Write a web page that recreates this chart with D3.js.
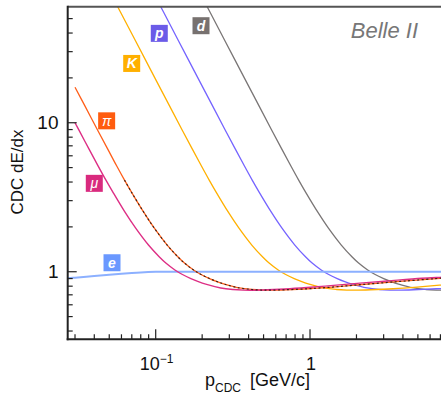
<!DOCTYPE html>
<html>
<head>
<meta charset="utf-8">
<script src="https://cdn.jsdelivr.net/npm/d3@7"></script>
<style>
  body { margin: 0; background: #fff; }
  svg { display: block; font-family: "Liberation Sans", Arial, sans-serif; }
</style>
</head>
<body>
<svg id="chart" width="441" height="396"></svg>
<script>
// momentum [GeV/c] and CDC dE/dx, one list per particle
const elecP = [0.027, 0.03, 0.04, 0.05, 0.06, 0.07, 0.08, 0.1, 0.12, 0.2, 0.5, 1, 3, 7.1];
const elecV = [0.905, 0.912, 0.935, 0.955, 0.97, 0.982, 0.99, 0.998, 1.0, 1.0, 1.0, 1.0, 1.0, 1.0];

const muonP = [0.03, 0.0317, 0.037, 0.0423, 0.0476, 0.0529, 0.0634, 0.074, 0.0898, 0.1057, 0.1163, 0.1332, 0.148, 0.169, 0.189, 0.211, 0.264, 0.317, 0.37, 0.423, 0.529, 0.74, 1.057, 1.48, 2.11, 3.17, 5.29, 6.98, 7.1];
const muonV = [10.0, 8.98, 6.65, 5.14, 4.12, 3.41, 2.50, 1.968, 1.51, 1.255, 1.143, 1.027, 0.962, 0.90, 0.858, 0.825, 0.778, 0.760, 0.753, 0.752, 0.757, 0.769, 0.789, 0.813, 0.838, 0.867, 0.904, 0.917, 0.918];

const pionP = [0.03, 0.0349, 0.0419, 0.0489, 0.0558, 0.0628, 0.0698, 0.0838, 0.0977, 0.1187, 0.1396, 0.1536, 0.1759, 0.1954, 0.2234, 0.2499, 0.2792, 0.349, 0.419, 0.4886, 0.558, 0.698, 0.977, 1.396, 1.954, 2.79, 4.19, 6.98, 7.1];
const pionV = [17.3, 12.87, 8.98, 6.65, 5.14, 4.12, 3.41, 2.50, 1.968, 1.51, 1.255, 1.143, 1.027, 0.962, 0.90, 0.858, 0.825, 0.778, 0.760, 0.753, 0.752, 0.757, 0.769, 0.789, 0.813, 0.838, 0.867, 0.904, 0.905];

const kaonP = [0.0494, 0.0592, 0.0741, 0.0987, 0.1234, 0.1481, 0.1728, 0.1975, 0.2222, 0.2469, 0.2962, 0.3456, 0.4196, 0.4937, 0.543, 0.622, 0.691, 0.79, 0.884, 0.987, 1.234, 1.481, 1.728, 1.975, 2.469, 3.456, 4.937, 6.91, 7.1];
const kaonV = [79, 55.1, 35.4, 20.0, 12.87, 8.98, 6.65, 5.14, 4.12, 3.41, 2.50, 1.968, 1.51, 1.255, 1.143, 1.027, 0.962, 0.90, 0.858, 0.825, 0.778, 0.760, 0.753, 0.752, 0.757, 0.769, 0.789, 0.813, 0.814];

const protP = [0.0938, 0.1126, 0.1407, 0.1876, 0.2345, 0.2814, 0.3283, 0.3752, 0.4221, 0.469, 0.5628, 0.6566, 0.7973, 0.938, 1.032, 1.182, 1.313, 1.501, 1.679, 1.876, 2.345, 2.814, 3.283, 3.752, 4.69, 6.566, 7.1];
const protV = [79, 55.1, 35.4, 20.0, 12.87, 8.98, 6.65, 5.14, 4.12, 3.41, 2.50, 1.968, 1.51, 1.255, 1.143, 1.027, 0.962, 0.90, 0.858, 0.825, 0.778, 0.760, 0.753, 0.752, 0.757, 0.769, 0.770];

const deutP = [0.1876, 0.2251, 0.2814, 0.3752, 0.469, 0.5628, 0.6566, 0.7504, 0.8442, 0.938, 1.126, 1.313, 1.595, 1.876, 2.064, 2.364, 2.626, 3.002, 3.358, 3.752, 4.69, 5.628, 6.566, 7.1];
const deutV = [79, 55.1, 35.4, 20.0, 12.87, 8.98, 6.65, 5.14, 4.12, 3.41, 2.50, 1.968, 1.51, 1.255, 1.143, 1.027, 0.962, 0.90, 0.858, 0.825, 0.778, 0.760, 0.753, 0.752];

// particle names and where their tags sit (p, dE/dx)
const names = ['e', 'μ', 'π', 'K', 'p', 'd'];
const tagP = [0.0521, 0.040, 0.0481, 0.0699, 0.1055, 0.1966];
const tagV = [1.149, 3.92, 10.3, 25.0, 39.8, 44.8];

const xMajor = [0.1, 1];
const xMinor = [0.03, 0.04, 0.05, 0.06, 0.07, 0.08, 0.09, 0.2, 0.3, 0.4, 0.5, 0.6, 0.7, 0.8, 0.9, 2, 3, 4, 5, 6, 7];
const yMajor = [1, 10];
const yMinor = [0.4, 0.5, 0.6, 0.7, 0.8, 0.9, 2, 3, 4, 5, 6, 7, 8, 9, 20, 30, 40, 50];

const curves = [
    { name: 'd', p: deutP, v: deutV, color: '#77716f', lineColor: '#7a7676', w: 1.3 },
    { name: 'p', p: protP, v: protV, color: '#6b5be8', lineColor: '#7564ff', w: 1.3 },
    { name: 'K', p: kaonP, v: kaonV, color: '#ffb000', lineColor: '#ffb000', w: 1.3 },
    { name: 'e', p: elecP, v: elecV, color: '#6a98ff', lineColor: '#8cb0ff', w: 2 },
    { name: 'π', p: pionP, v: pionV, color: '#ff5c0f', lineColor: '#ff5f1a', w: 1.3 },
    { name: 'μ', p: muonP, v: muonV, color: '#d92a7e', lineColor: '#dd2f85', w: 1.4 }
];

const svg = d3.select('#chart');
const plotL = 67.7, plotR = 441, plotT = 6.8, plotB = 339.3;

const x = d3.scaleLog().domain([0.0269, 7.06]).range([plotL, plotR]);
const y = d3.scaleLog().domain([0.352, 60]).range([plotB, plotT]);

svg.append('defs').append('clipPath').attr('id', 'plot')
    .append('rect')
    .attr('x', plotL).attr('y', plotT)
    .attr('width', plotR - plotL).attr('height', plotB - plotT);

const line = d3.line()
    .x(d => x(d[0]))
    .y(d => y(d[1]))
    .curve(d3.curveCatmullRom);

const g = svg.append('g').attr('clip-path', 'url(#plot)');

curves.forEach(c => {
    const pts = c.p.map((p, i) => [p, c.v[i]]);
    g.append('path')
        .attr('d', line(pts))
        .attr('fill', 'none')
        .attr('stroke', c.lineColor)
        .attr('stroke-width', c.w);
});

// black dotted overlay along the pion band
const pionPts = pionP.map((p, i) => [p, pionV[i]]).filter(d => d[0] >= 0.06);
g.append('path')
    .attr('d', line(pionPts))
    .attr('fill', 'none')
    .attr('stroke', '#111')
    .attr('stroke-width', 1.2)
    .attr('stroke-dasharray', '2,2.5')
    .attr('opacity', 0.8);

// particle tags
const tagColor = {};
curves.forEach(c => { tagColor[c.name] = c.color; });
names.forEach((n, i) => {
    const cx = x(tagP[i]), cy = y(tagV[i]);
    svg.append('rect')
        .attr('x', cx - 8.5).attr('y', cy - 8.5)
        .attr('width', 17).attr('height', 17)
        .attr('fill', tagColor[n]);
    svg.append('text')
        .attr('x', cx).attr('y', cy + 5)
        .attr('text-anchor', 'middle')
        .attr('fill', '#fff')
        .style('font-size', '14px')
        .style('font-style', 'italic')
        .style('font-weight', n === 'π' || n === 'μ' ? 'normal' : 'bold')
        .text(n);
});

// frame
svg.append('line').attr('x1', plotL).attr('x2', plotR).attr('y1', plotT).attr('y2', plotT)
    .attr('stroke', '#555').attr('stroke-width', 2);
svg.append('line').attr('x1', plotL).attr('x2', plotL).attr('y1', plotT - 1).attr('y2', plotB + 1)
    .attr('stroke', '#222').attr('stroke-width', 2);
svg.append('line').attr('x1', plotL - 1).attr('x2', plotR).attr('y1', plotB).attr('y2', plotB)
    .attr('stroke', '#222').attr('stroke-width', 2);

// ticks
const ticks = svg.append('g').attr('stroke', '#222').attr('stroke-width', 1.2);
xMajor.forEach(t => ticks.append('line').attr('x1', x(t)).attr('x2', x(t)).attr('y1', plotB).attr('y2', plotB - 10));
xMinor.forEach(t => ticks.append('line').attr('x1', x(t)).attr('x2', x(t)).attr('y1', plotB).attr('y2', plotB - 5));
yMajor.forEach(t => ticks.append('line').attr('y1', y(t)).attr('y2', y(t)).attr('x1', plotL).attr('x2', plotL + 9));
yMinor.forEach(t => ticks.append('line').attr('y1', y(t)).attr('y2', y(t)).attr('x1', plotL).attr('x2', plotL + 5));

// tick labels
svg.append('text').attr('x', 58.5).attr('y', y(10) + 6.5).attr('text-anchor', 'end')
    .style('font-size', '19px').attr('fill', '#111').text('10');
svg.append('text').attr('x', 58.5).attr('y', y(1) + 6.5).attr('text-anchor', 'end')
    .style('font-size', '19px').attr('fill', '#111').text('1');

const xl = svg.append('text').attr('x', x(0.1) + 1).attr('y', 370).attr('text-anchor', 'middle')
    .style('font-size', '18px').attr('fill', '#111');
xl.append('tspan').text('10');
xl.append('tspan').attr('dy', -7).style('font-size', '12px').text('−1');
svg.append('text').attr('x', x(1) + 1).attr('y', 370).attr('text-anchor', 'middle')
    .style('font-size', '18px').attr('fill', '#111').text('1');

// axis titles
const xt = svg.append('text').attr('x', 205).attr('y', 386)
    .style('font-size', '18px').attr('fill', '#111');
xt.append('tspan').text('p');
xt.append('tspan').attr('dy', 6).style('font-size', '12px').text('CDC');
xt.append('tspan').attr('dy', -6).attr('dx', 9).text('[GeV/c]');

svg.append('text')
    .attr('transform', 'translate(23,172) rotate(-90)')
    .attr('text-anchor', 'middle')
    .style('font-size', '17px').attr('fill', '#111')
    .text('CDC dE/dx');

svg.append('text').attr('x', 418).attr('y', 37.5).attr('text-anchor', 'end')
    .style('font-size', '22px').style('font-style', 'italic').attr('fill', '#777')
    .text('Belle II');
</script>
</body>
</html>
